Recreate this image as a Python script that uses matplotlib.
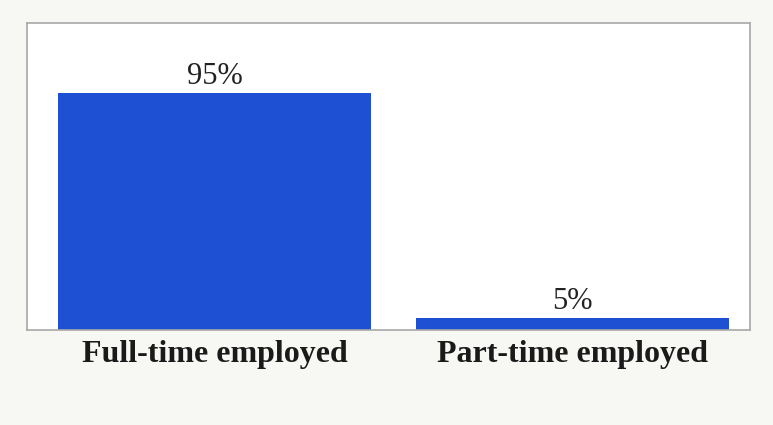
import matplotlib.pyplot as plt

categories = ['Full-time employed', 'Part-time employed']
values = [95, 5]
labels = ['95%', '5%']

fig = plt.figure(figsize=(7.73, 4.25), dpi=100, facecolor='#f7f7f4')
ax = fig.add_axes([0.035, 0.2235, 0.935, 0.7225])
ax.set_facecolor('white')

bars = ax.bar(range(len(categories)), values, width=0.875, color='#1e50d4')
for bar, lab in zip(bars, labels):
    ax.text(bar.get_x() + bar.get_width() / 2, bar.get_height() + 0.6, lab,
            ha='center', va='bottom', fontsize=22, family='Liberation Serif',
            color='#222222')

ax.set_xlim(-0.525, 1.495)
ax.set_ylim(0, 123)
ax.set_yticks([])
ax.set_xticks(range(len(categories)))
ax.set_xticklabels(categories, fontsize=23, family='Liberation Serif',
                   fontweight='bold', color='#1a1a1a')
ax.tick_params(axis='x', length=0, pad=7)
for s in ax.spines.values():
    s.set_color('#a8a8a8')
    s.set_linewidth(1.2)

fig.savefig('out.png', dpi=100, facecolor=fig.get_facecolor())
